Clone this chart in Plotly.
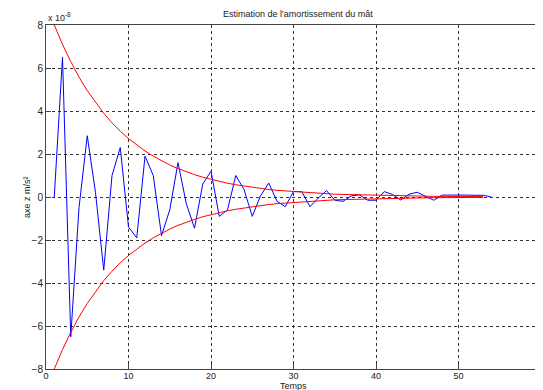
import plotly.graph_objects as go

# sample index (MATLAB plot(y) style: 1..N)
x_signal = list(range(1, 55))
signal = [0, 6.5, -6.5, -0.5, 2.85, 0.2, -3.4, 1.0, 2.3, -1.4,
          -1.9, 1.9, 1.0, -1.8, -0.6, 1.6, -0.3, -1.45, 0.6, 1.2,
          -0.9, -0.6, 1.0, 0.35, -0.9, 0.05, 0.65, -0.2, -0.45, 0.25,
          0.25, -0.45, -0.05, 0.3, -0.15, -0.2, 0.05, 0.1, -0.15, -0.15,
          0.25, 0.12, -0.14, 0.13, 0.22, 0.03, -0.15, 0.09, 0.1, 0.09,
          0.09, 0.08, 0.08, 0.0]

x_env = list(range(1, 54))
env_upper = [8.00, 7.10, 6.30, 5.58, 4.95, 4.39, 3.89, 3.45, 3.06, 2.72,
             2.41, 2.14, 1.90, 1.68, 1.49, 1.32, 1.17, 1.04, 0.92, 0.82,
             0.73, 0.64, 0.57, 0.51, 0.45, 0.40, 0.35, 0.31, 0.28, 0.25,
             0.22, 0.19, 0.17, 0.15, 0.13, 0.12, 0.11, 0.09, 0.08, 0.07,
             0.07, 0.06, 0.05, 0.04, 0.04, 0.04, 0.03, 0.03, 0.02, 0.02,
             0.02, 0.02, 0.02]
env_lower = [-v for v in env_upper]

x_ticks = [0, 10, 20, 30, 40, 50, 60]
y_ticks = [-8, -6, -4, -2, 0, 2, 4, 6, 8]

FONT = "Liberation Sans, Arial, sans-serif"
TXT = "#222222"

fig = go.Figure()
fig.add_trace(go.Scatter(x=x_signal, y=signal, mode="lines",
                         line=dict(color="#0000ff", width=1), showlegend=False))
fig.add_trace(go.Scatter(x=x_env, y=env_upper, mode="lines",
                         line=dict(color="#ff0000", width=1), showlegend=False))
fig.add_trace(go.Scatter(x=x_env, y=env_lower, mode="lines",
                         line=dict(color="#ff0000", width=1), showlegend=False))

axis_common = dict(showline=True, linecolor="#444444", linewidth=1, mirror=True,
                   ticks="inside", ticklen=5, tickcolor="#444444",
                   showgrid=True, gridcolor="#333333", griddash="dot", gridwidth=1,
                   zeroline=False, automargin=False,
                   tickfont=dict(family=FONT, size=10, color=TXT))

# page body has an 8px margin: figure is sized/offset to compensate
fig.update_layout(
    width=535, height=382,
    margin=dict(l=38, r=2, t=17, b=21, autoexpand=False),
    paper_bgcolor="white", plot_bgcolor="white",
    xaxis=dict(range=[0, 60], tickvals=x_ticks, **axis_common),
    yaxis=dict(range=[-8, 8], tickvals=y_ticks, **axis_common),
    annotations=[
        dict(text="Estimation de l'amortissement du mât", xref="paper", yref="paper",
             x=0.51, y=1.0, yshift=11, xanchor="center", yanchor="middle", showarrow=False,
             font=dict(family=FONT, size=9, color=TXT)),
        dict(text="x 10<sup>-8</sup>", xref="paper", yref="paper", x=0, y=1.0,
             xanchor="left", yanchor="bottom", showarrow=False,
             font=dict(family=FONT, size=9, color=TXT)),
        dict(text="Temps", xref="paper", yref="paper", x=0.5, y=0, yshift=-17,
             xanchor="center", yanchor="middle", showarrow=False,
             font=dict(family=FONT, size=9, color=TXT)),
        dict(text="axe z m/s²", xref="paper", yref="paper", x=0, xshift=-12, y=0.5,
             xanchor="right", yanchor="middle", textangle=-90, showarrow=False,
             font=dict(family=FONT, size=9, color=TXT)),
    ],
)
fig.update_xaxes(tickfont=dict(size=9), ticklabelstandoff=-2)

fig.write_html("out.html")
